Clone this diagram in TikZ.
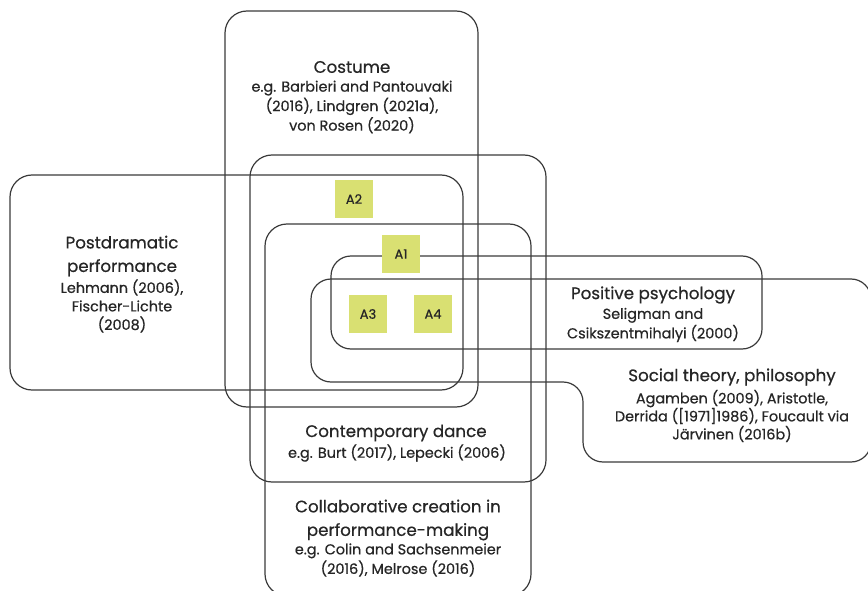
\documentclass[tikz,border=0pt]{standalone}
\usepackage{fontspec}
\setmainfont{Poppins}[FakeBold=0.6]
\definecolor{linegray}{HTML}{3A3A3A}
\definecolor{textgray}{HTML}{262626}
\definecolor{tagfill}{HTML}{D9E072}
\begin{document}
\begin{tikzpicture}[x=1pt,y=-1pt,
  area/.style={draw=linegray, line width=1.2pt, rounded corners=22pt},
  tag/.style={fill=tagfill, minimum size=38pt, inner sep=0pt, text=textgray,
    font=\fontsize{13}{15}\selectfont},
  head/.style={text=textgray, align=center, inner sep=0pt,
    font=\fontsize{16.7}{23.5}\selectfont},
  cite/.style={text=textgray, align=center, inner sep=0pt,
    font=\fontsize{14.4}{19.5}\selectfont}
]
\useasboundingbox (0,0) rectangle (868,591);

% overlapping fields
\draw[area] (225,11) rectangle (478,407);   % costume
\draw[area] (10,175) rectangle (463,390);   % postdramatic performance
\draw[area] (250,155) rectangle (546,482);  % contemporary dance
\draw[area] (265,224) rectangle (531,596);  % collaborative creation
\draw[area, rounded corners=20pt] (331,256) rectangle (762,349); % positive psychology
\draw[area, rounded corners=20pt]           % social theory, philosophy
  (311,279) -- (871,279) -- (871,462) -- (583,462) -- (583,382) -- (311,382) -- cycle;

% field labels
\node[head] (costume) at (352,67) {Costume};
\node[cite] (costumeref) at (352,107) {e.g. Barbieri and Pantouvaki\\(2016), Lindgren (2021a),\\von Rosen (2020)};

\node[head] (postdram) at (122,256) {Postdramatic\\performance};
\node[cite, font=\fontsize{14.4}{18.5}\selectfont] (postdramref) at (122,306) {Lehmann (2006),\\Fischer-Lichte\\(2008)};

\node[head] (positive) at (653,295) {Positive psychology};
\node[cite] (positiveref) at (653,325) {Seligman and\\Csikszentmihalyi (2000)};

\node[head] (social) at (732,377) {Social theory, philosophy};
\node[cite, font=\fontsize{14.4}{18}\selectfont] (socialref) at (732,416) {Agamben (2009), Aristotle,\\Derrida ([1971]1986), Foucault via\\Järvinen (2016b)};

\node[head] (dance) at (396,433) {Contemporary dance};
\node[cite] (danceref) at (397,453) {e.g. Burt (2017), Lepecki (2006)};

\node[head] (collab) at (398,520) {Collaborative creation in\\performance-making};
\node[cite] (collabref) at (398,560) {e.g. Colin and Sachsenmeier\\(2016), Melrose (2016)};

% tags
\node[tag] (a2) at (354,199) {A2};
\node[tag] (a1) at (401,254) {A1};
\node[tag] (a3) at (368,314) {A3};
\node[tag] (a4) at (433,314) {A4};
\end{tikzpicture}
\end{document}
